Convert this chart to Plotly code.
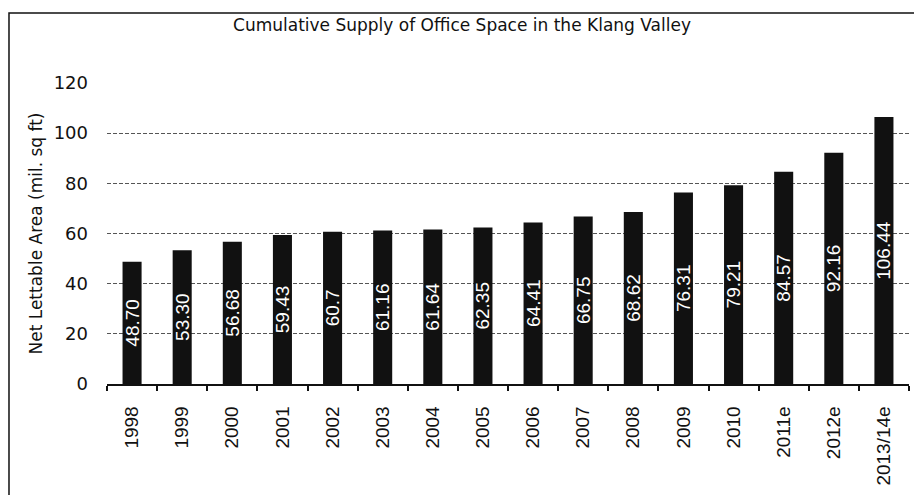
import plotly.graph_objects as go

years = ["1998", "1999", "2000", "2001", "2002", "2003", "2004", "2005", "2006",
         "2007", "2008", "2009", "2010", "2011e", "2012e", "2013/14e"]
supply = [48.70, 53.30, 56.68, 59.43, 60.7, 61.16, 61.64, 62.35, 64.41,
          66.75, 68.62, 76.31, 79.21, 84.57, 92.16, 106.44]
labels = ["48.70", "53.30", "56.68", "59.43", "60.7", "61.16", "61.64", "62.35", "64.41",
          "66.75", "68.62", "76.31", "79.21", "84.57", "92.16", "106.44"]
y_ticks = [0, 20, 40, 60, 80, 100, 120]

fig = go.Figure(go.Bar(
    x=years, y=supply, text=labels,
    textposition="inside", insidetextanchor="middle", textangle=-90,
    textfont=dict(family="Liberation Sans", size=19, color="white"),
    marker=dict(color="#111111", line=dict(width=0)),
    cliponaxis=False,
))

fig.update_layout(
    width=922, height=495,
    margin=dict(l=99, r=21, t=75, b=119),
    paper_bgcolor="white", plot_bgcolor="white",
    bargap=0.62,
    showlegend=False,
    uniformtext=dict(minsize=19, mode="show"),
    font=dict(family="DejaVu Sans", color="#111111"),
    title=dict(text="Cumulative Supply of Office Space in the Klang Valley",
               x=0.4924, xanchor="center", y=0.9657, yanchor="middle",
               font=dict(family="DejaVu Sans", size=17, color="#111111")),
    xaxis=dict(
        type="category", tickson="boundaries", ticks="outside", ticklen=5,
        tickcolor="#111", tickwidth=1.5,
        showline=True, linecolor="#111", linewidth=1.5,
        tickangle=-90, ticklabelstandoff=13,
        tickfont=dict(family="Liberation Sans", size=19, color="#111"),
        showgrid=False,
    ),
    yaxis=dict(
        range=[0, 120], tickvals=y_ticks, ticktext=[str(v) for v in y_ticks],
        showgrid=True, gridcolor="#555", gridwidth=1, griddash="4px,2px",
        zeroline=False, showline=False, ticks="", ticklabelstandoff=18,
        tickfont=dict(family="DejaVu Sans", size=18, color="#111"),
        title=dict(text="Net Lettable Area (mil. sq ft)", standoff=6,
                   font=dict(family="DejaVu Sans", size=17, color="#111")),
    ),
    shapes=[dict(type="rect", xref="paper", yref="paper",
                 x0=-0.1222, x1=1.0112, y0=-0.5, y1=1.2326,
                 line=dict(color="#111", width=1.5), layer="below")],
)

fig.write_html("out.html")
